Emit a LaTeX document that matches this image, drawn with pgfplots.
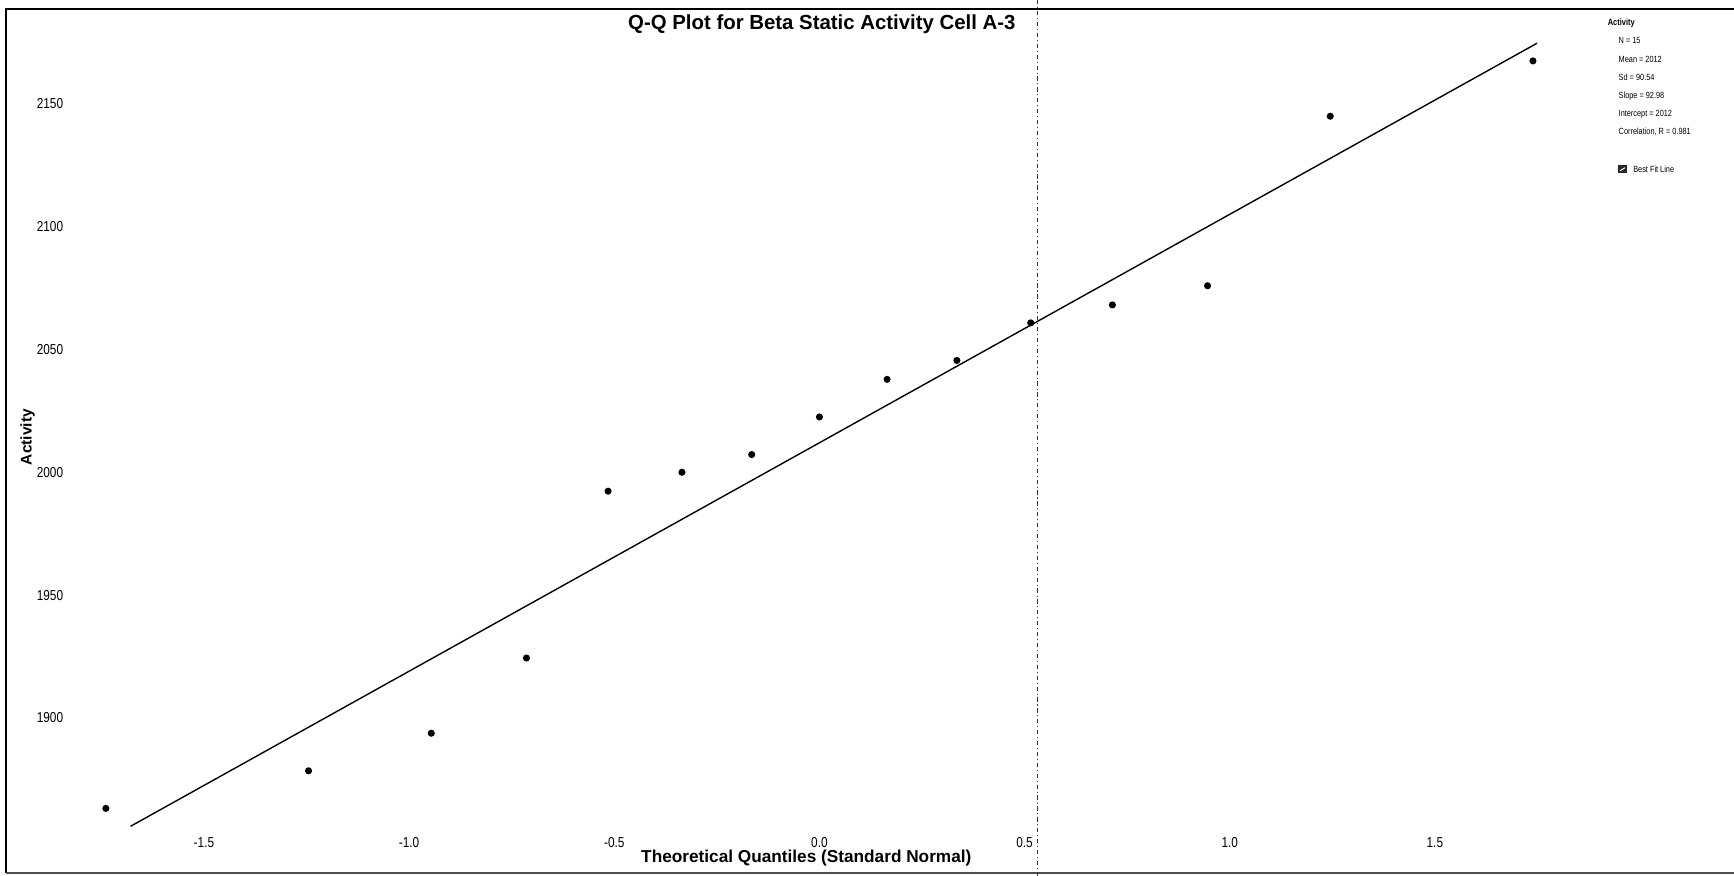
\documentclass[border=0pt]{standalone}
\usepackage{fontspec}
\setmainfont{Liberation Sans}
\newfontfamily\narrow[FakeStretch=0.82]{Liberation Sans}
\usepackage{pgfplots}
\pgfplotsset{compat=1.18}

\pgfplotstableread{
q       act
-1.739  1863.2
-1.245  1878.5
-0.946  1893.8
-0.714  1924.4
-0.515  1992.3
-0.335  2000.0
-0.165  2007.2
0.000   2022.5
0.165   2037.8
0.335   2045.5
0.515   2060.8
0.714   2068.1
0.946   2075.9
1.245   2144.9
1.739   2167.4
}\qqdata

\begin{document}
\begin{tikzpicture}
\begin{axis}[
  name=ax,
  width=173.4mm, height=87.6mm, scale only axis,
  xmin=-1.997, xmax=2.229,
  ymin=1835.7, ymax=2192.2,
  clip=false,
  axis line style={draw=none},
  major tick length=0pt,
  xtick={-1.5,-1,-0.5,0,0.5,1,1.5},
  xticklabels={-1.5,-1.0,-0.5,0.0,0.5,1.0,1.5},
  ytick={1900,1950,2000,2050,2100,2150},
  yticklabels={1900,1950,2000,2050,2100,2150},
  xticklabel style={font=\narrow\fontsize{4.1}{5}\selectfont, anchor=center, yshift=3.3mm},
  yticklabel style={font=\narrow\fontsize{4.1}{5}\selectfont, anchor=center, xshift=5mm},
  xlabel={Theoretical Quantiles (Standard Normal)},
  xlabel style={font=\bfseries\fontsize{4.9}{6}\selectfont, at={(rel axis cs:0.465,0)}, anchor=center, yshift=1.8mm},
]
% frame
\draw[black, line width=0.2mm] (rel axis cs:0.0032,0.0039) -- (rel axis cs:0.0032,0.99) -- (rel axis cs:1,0.99);
\draw[black!70, line width=0.2mm] (rel axis cs:0.0032,0.0039) -- (rel axis cs:1,0.0039);
% title and y label
\node[font=\bfseries\fontsize{5.8}{7}\selectfont, inner sep=0pt] at (rel axis cs:0.474,0.9722) {Q-Q Plot for Beta Static Activity Cell A-3};
\node[font=\bfseries\fontsize{4.4}{5}\selectfont, inner sep=0pt, rotate=90] at (rel axis cs:0.0159,0.501) {Activity};
% reference line
\addplot[black!80, line width=0.1mm, dash pattern=on 1.2pt off 0.8pt on 0.3pt off 0.8pt]
  coordinates {(0.531,1835.7) (0.531,2192.2)};
% best fit line
\addplot[black, line width=0.14mm] coordinates {(-1.679,1855.9) (1.749,2174.6)};
% data
\addplot[only marks, mark=*, mark size=0.28mm, black] table[x=q, y=act] {\qqdata};
% legend block
\begin{scope}[every node/.style={inner sep=0pt, anchor=west}]
\node[font=\narrow\bfseries\fontsize{2.6}{3}\selectfont] at (rel axis cs:0.9268,0.9735) {Activity};
\node[font=\narrow\fontsize{2.55}{3}\selectfont] at (rel axis cs:0.9331,0.9533) {N = 15};
\node[font=\narrow\fontsize{2.55}{3}\selectfont] at (rel axis cs:0.9331,0.9318) {Mean = 2012};
\node[font=\narrow\fontsize{2.55}{3}\selectfont] at (rel axis cs:0.9331,0.9116) {Sd = 90.54};
\node[font=\narrow\fontsize{2.55}{3}\selectfont] at (rel axis cs:0.9331,0.8902) {Slope = 92.98};
\node[font=\narrow\fontsize{2.55}{3}\selectfont] at (rel axis cs:0.9331,0.8700) {Intercept = 2012};
\node[font=\narrow\fontsize{2.55}{3}\selectfont] at (rel axis cs:0.9331,0.8498) {Correlation, R = 0.981};
\node[font=\narrow\fontsize{2.55}{3}\selectfont] at (rel axis cs:0.9415,0.8068) {Best Fit Line};
\end{scope}
\fill[black!85] ([xshift=-0.45mm,yshift=-0.4mm]rel axis cs:0.9357,0.8068) rectangle ([xshift=0.45mm,yshift=0.4mm]rel axis cs:0.9357,0.8068);
\draw[white, line width=0.1mm] ([xshift=-0.25mm,yshift=-0.15mm]rel axis cs:0.9357,0.8068) -- ([xshift=0.25mm,yshift=0.15mm]rel axis cs:0.9357,0.8068);
\end{axis}
\pgfresetboundingbox
\useasboundingbox (ax.south west) rectangle (ax.north east);
\end{tikzpicture}
\end{document}
